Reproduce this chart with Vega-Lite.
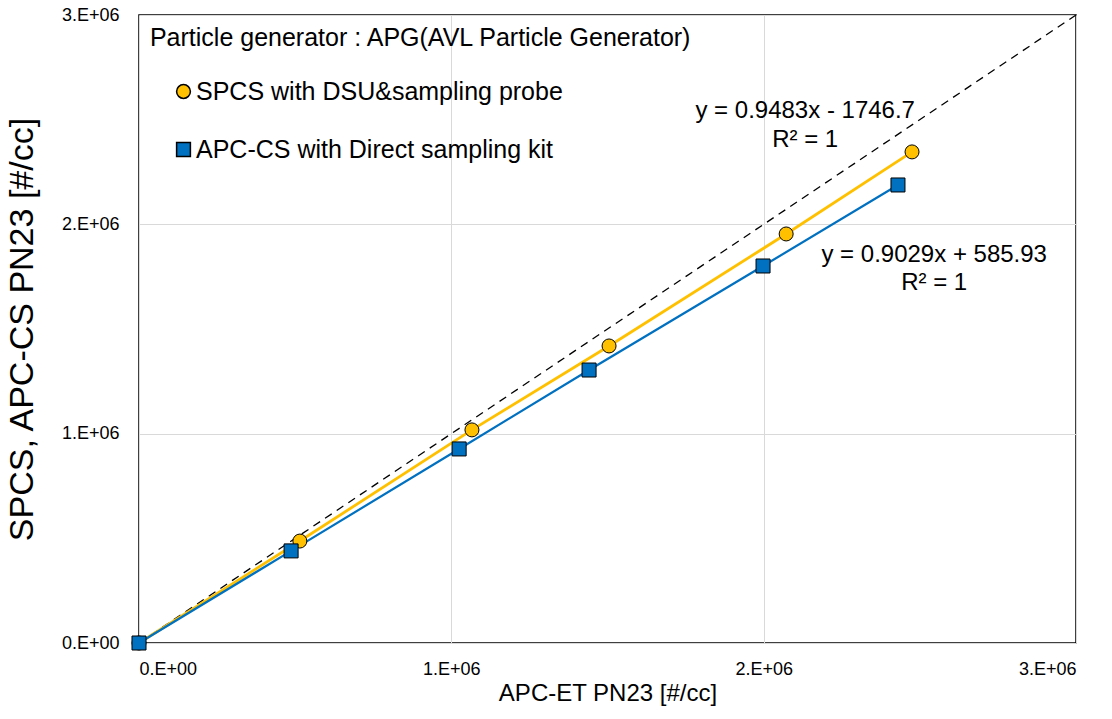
{
  "$schema": "https://vega.github.io/schema/vega-lite/v6.json",
  "autosize": {"type": "none"},
  "width": 937,
  "height": 628,
  "padding": {"left": 139, "top": 15, "right": 36, "bottom": 76},
  "background": "white",
  "config": {
    "font": "Liberation Sans",
    "view": {"stroke": "black", "strokeWidth": 1.5},
    "axis": {"labelFontSize": 18, "labelColor": "#000"}
  },
  "datasets": {
    "pts": [
      {"series": "SPCS with DSU&sampling probe", "x": 0, "y": 0},
      {"series": "SPCS with DSU&sampling probe", "x": 515000, "y": 487000},
      {"series": "SPCS with DSU&sampling probe", "x": 1066000, "y": 1018000},
      {"series": "SPCS with DSU&sampling probe", "x": 1505000, "y": 1419000},
      {"series": "SPCS with DSU&sampling probe", "x": 2072000, "y": 1954000},
      {"series": "SPCS with DSU&sampling probe", "x": 2475000, "y": 2346000},
      {"series": "APC-CS with Direct sampling kit", "x": 0, "y": 0},
      {"series": "APC-CS with Direct sampling kit", "x": 487000, "y": 440000},
      {"series": "APC-CS with Direct sampling kit", "x": 1025000, "y": 927000},
      {"series": "APC-CS with Direct sampling kit", "x": 1441000, "y": 1304000},
      {"series": "APC-CS with Direct sampling kit", "x": 1998000, "y": 1801000},
      {"series": "APC-CS with Direct sampling kit", "x": 2430000, "y": 2188000}
    ],
    "diag": [{"x": 0, "y": 0}, {"x": 3000000, "y": 3000000}],
    "notes": [
      {"x": 2133000, "y": 2542000, "label": "y = 0.9483x  - 1746.7"},
      {"x": 2133000, "y": 2403000, "label": "R² = 1"},
      {"x": 2546000, "y": 1854000, "label": "y = 0.9029x  + 585.93"},
      {"x": 2546000, "y": 1720000, "label": "R² = 1"}
    ],
    "heading": [{"x": 35000, "y": 2890000, "label": "Particle generator : APG(AVL Particle Generator)"}]
  },
  "layer": [
    {
      "data": {"name": "diag"},
      "mark": {"type": "line", "color": "#000", "strokeWidth": 1.3, "strokeDash": [8, 6]},
      "encoding": {
        "x": {"field": "x", "type": "quantitative", "scale": {"domain": [0, 3000000], "nice": false},
          "axis": {"values": [0, 1000000, 2000000, 3000000], "labelExpr": "datum.value == 0 ? '0.E+00' : format(datum.value/1e6, '.0f') + '.E+06'", "grid": true, "gridColor": "#d9d9d9", "ticks": false, "domain": false, "labelFontSize": 18, "labelColor": "#000", "labelPadding": 17, "title": "APC-ET  PN23 [#/cc]", "titleFontSize": 24, "titleFontWeight": "normal", "titleColor": "#000", "titlePadding": 3}},
        "y": {"field": "y", "type": "quantitative", "scale": {"domain": [0, 3000000], "nice": false},
          "axis": {"values": [0, 1000000, 2000000, 3000000], "labelExpr": "datum.value == 0 ? '0.E+00' : format(datum.value/1e6, '.0f') + '.E+06'", "grid": true, "gridColor": "#d9d9d9", "ticks": false, "domain": false, "labelFontSize": 18, "labelColor": "#000", "labelPadding": 20, "title": "SPCS, APC-CS  PN23 [#/cc]", "titleFontSize": 34, "titleFontWeight": "normal", "titleColor": "#000", "titlePadding": 22}}
      }
    },
    {
      "data": {"name": "pts"},
      "transform": [{"filter": "datum.series == 'SPCS with DSU&sampling probe'"}],
      "mark": {"type": "line", "strokeWidth": 2.8, "color": "#FFC000"},
      "encoding": {
        "x": {"field": "x", "type": "quantitative"},
        "y": {"field": "y", "type": "quantitative"}
      }
    },
    {
      "data": {"name": "pts"},
      "transform": [{"filter": "datum.series == 'APC-CS with Direct sampling kit'"}],
      "mark": {"type": "line", "strokeWidth": 2.2, "color": "#0070C0"},
      "encoding": {
        "x": {"field": "x", "type": "quantitative"},
        "y": {"field": "y", "type": "quantitative"}
      }
    },
    {
      "data": {"name": "pts"},
      "mark": {"type": "point", "filled": true, "stroke": "#000", "strokeWidth": 1, "size": 196, "opacity": 1},
      "encoding": {
        "x": {"field": "x", "type": "quantitative"},
        "y": {"field": "y", "type": "quantitative"},
        "fill": {"field": "series", "type": "nominal", "scale": {"domain": ["SPCS with DSU&sampling probe", "APC-CS with Direct sampling kit"], "range": ["#FFC000", "#0070C0"]},
          "legend": {"orient": "none", "legendX": 32, "legendY": 64, "title": null, "labelFontSize": 25, "labelLimit": 600, "labelColor": "#000", "symbolSize": 190, "rowPadding": 32, "labelOffset": 0,
            "encode": {"symbols": {"update": {"stroke": {"value": "#000"}, "strokeWidth": {"value": 1}}}}}},
        "shape": {"field": "series", "type": "nominal", "scale": {"domain": ["SPCS with DSU&sampling probe", "APC-CS with Direct sampling kit"], "range": ["circle", "square"]},
          "legend": {"orient": "none", "legendX": 32, "legendY": 64, "title": null, "labelFontSize": 25, "labelLimit": 600, "labelColor": "#000", "symbolSize": 190, "rowPadding": 32, "labelOffset": 0,
            "encode": {"symbols": {"update": {"stroke": {"value": "#000"}, "strokeWidth": {"value": 1}}}}}}
      }
    },
    {
      "data": {"name": "notes"},
      "mark": {"type": "text", "fontSize": 24, "align": "center", "baseline": "middle", "color": "#000"},
      "encoding": {
        "x": {"field": "x", "type": "quantitative"},
        "y": {"field": "y", "type": "quantitative"},
        "text": {"field": "label"}
      }
    },
    {
      "data": {"name": "heading"},
      "mark": {"type": "text", "fontSize": 25, "align": "left", "baseline": "middle", "color": "#000"},
      "encoding": {
        "x": {"field": "x", "type": "quantitative"},
        "y": {"field": "y", "type": "quantitative"},
        "text": {"field": "label"}
      }
    }
  ]
}
